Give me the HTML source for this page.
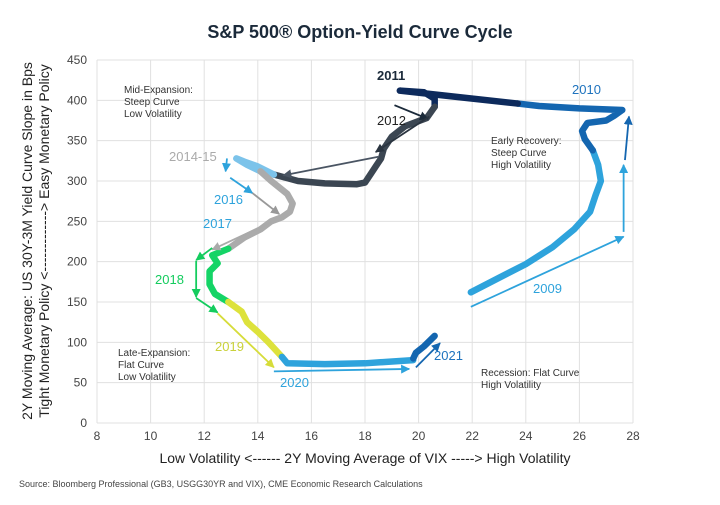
<!DOCTYPE html>
<html><head><meta charset="utf-8"><style>
body{margin:0;background:#fff;width:720px;height:500px;overflow:hidden;font-family:"Liberation Sans",sans-serif}
</style></head><body>
<svg id="chart" width="720" height="500" xmlns="http://www.w3.org/2000/svg" style="font-family:'Liberation Sans',sans-serif">
<defs>
<marker id="ah" viewBox="0 0 10 10" refX="9" refY="5" markerWidth="5" markerHeight="5" orient="auto-start-reverse"><path d="M0,0 L10,5 L0,10 z" fill="context-stroke"/></marker>
</defs>
<text x="360" y="38" text-anchor="middle" font-size="18" font-weight="bold" fill="#1b2a3a">S&amp;P 500® Option-Yield Curve Cycle</text>
<g id="grid"></g><g id="series"></g><g id="arrows"></g>
<text x="365" y="463" text-anchor="middle" font-size="14" fill="#222">Low Volatility &lt;------ 2Y Moving Average of VIX -----&gt; High Volatility</text>
<text transform="translate(40,241) rotate(-90)" text-anchor="middle" font-size="14" fill="#222"><tspan x="0" dy="-8">2Y Moving Average: US 30Y-3M  Yield Curve Slope in Bps</tspan><tspan x="0" dy="17">Tight Monetary Policy &lt;-------------&gt; Easy Monetary Policy</tspan></text>
<text x="19" y="487" font-size="9" fill="#444">Source: Bloomberg Professional (GB3, USGG30YR and VIX), CME Economic Research Calculations</text>
<g id="labels" font-size="10" fill="#333">
<text x="124" y="93"><tspan x="124">Mid-Expansion:</tspan><tspan x="124" dy="12">Steep Curve</tspan><tspan x="124" dy="12">Low Volatility</tspan></text>
<text x="491" y="144"><tspan x="491">Early Recovery:</tspan><tspan x="491" dy="12">Steep Curve</tspan><tspan x="491" dy="12">High Volatility</tspan></text>
<text x="118" y="356"><tspan x="118">Late-Expansion:</tspan><tspan x="118" dy="12">Flat Curve</tspan><tspan x="118" dy="12">Low Volatility</tspan></text>
<text x="481" y="376"><tspan x="481">Recession:  Flat Curve</tspan><tspan x="481" dy="12">High Volatility</tspan></text>
</g>
<g font-size="13">
<text x="377" y="80" fill="#1b2a3a" font-weight="bold">2011</text>
<text x="377" y="125" fill="#222">2012</text>
<text x="572" y="94" fill="#1e73be">2010</text>
<text x="169" y="161" fill="#aaa">2014-15</text>
<text x="214" y="204" fill="#2ea3dc">2016</text>
<text x="203" y="228" fill="#2ea3dc">2017</text>
<text x="155" y="284" fill="#14cc5e">2018</text>
<text x="215" y="351" fill="#c9d13a">2019</text>
<text x="280" y="387" fill="#2ea3dc">2020</text>
<text x="434" y="360" fill="#1e73be">2021</text>
<text x="533" y="293" fill="#2ea3dc">2009</text>
</g>
</svg>
<script>
const xTicks=[8,10,12,14,16,18,20,22,24,26,28];
const yTicks=[0,50,100,150,200,250,300,350,400,450];
const s2009=[[21.95,162],[23,180],[24,197],[25,218],[25.8,240],[26.4,262],[26.6,282],[26.8,300],[26.7,320],[26.5,338]];
const s2010=[[26.5,338],[26.2,352],[26.1,362],[26.3,372],[27,375],[27.3,381],[27.6,388],[26,390],[24.5,393],[23.7,396]];
const s2011=[[23.7,396],[21.5,404],[19.3,412],[20.2,410],[20.6,402],[20.6,392]];
const s2012=[[20.6,392],[20.3,378],[19.5,368],[19,355],[18.7,340],[18.6,328],[18.4,318],[18.2,308],[18,298],[17.7,296],[16.5,297],[15.5,300],[14.6,308]];
const s2014=[[14.6,308],[14,318],[13.5,324],[13.2,328],[13.6,320],[14.1,312]];
const s2016=[[14.1,312],[14.5,300],[14.8,292],[15.1,284],[15.3,272],[15.2,262],[14.9,255],[14.5,250],[14.1,240],[13.5,230],[12.9,216]];
const s2018=[[12.9,216],[12.3,208],[12.5,198],[12.2,188],[12.2,172],[12.4,160],[12.9,150]];
const s2019=[[12.9,150],[13.4,138],[13.6,125],[14,113],[14.4,100],[14.9,82]];
const s2020=[[14.9,82],[15.1,74],[16.5,73],[18,74],[19.8,78]];
const s2021=[[19.8,80],[19.9,87],[20.2,95],[20.6,108]];
const seriesList=[[s2009,'#2ea3dc'],[s2010,'#1466b0'],[s2011,'#0d2a5c'],[s2012,'#3b4652'],[s2014,'#7cc3ea'],[s2016,'#ababab'],[s2018,'#14d466'],[s2019,'#dde23c'],[s2020,'#2ea3dc'],[s2021,'#1466b0']];
const arrowList=[[19.1,394,20.35,377,'#1b2a3a'],[20.4,380,18.4,336,'#2a3440'],[18.5,330,14.95,307,'#4a5563'],[12.85,328,12.8,312,'#2ea3dc'],[12.97,304,13.8,285,'#2ea3dc'],[13.8,285,14.8,259,'#999'],[14.5,249,12.3,215,'#aaa'],[12.3,217,11.7,202,'#14cc5e'],[11.7,201,11.7,156,'#14cc5e'],[11.7,155,12.5,137,'#14cc5e'],[12.5,136,14.6,69,'#d6dc3a'],[14.6,64,19.65,67,'#2ea3dc'],[19.9,69,20.8,99,'#1466b0'],[21.95,144,27.65,231,'#2ea3dc'],[27.65,237,27.65,320,'#2ea3dc'],[27.7,326,27.85,380,'#1466b0']];
const X0=97,X1=633,Y0=423,Y1=60;
const xs=v=>X0+(v-8)/20*(X1-X0);
const ys=v=>Y0-(v/450)*(Y0-Y1);
const NS='http://www.w3.org/2000/svg';
const g=document.getElementById('grid');
function mk(tag,parent,attrs){const e=document.createElementNS(NS,tag);for(const k in attrs)e.setAttribute(k,attrs[k]);parent.appendChild(e);return e;}
xTicks.forEach(t=>{const l=mk('line',g,{x1:xs(t),x2:xs(t),y1:Y1,y2:Y0,stroke:'#e0e0e0','stroke-width':1});


const tx=mk('text',g,{x:xs(t),y:Y0+17,'text-anchor':'middle','font-size':12,fill:'#444'});tx.textContent=t;

});
yTicks.forEach(t=>{const l=mk('line',g,{x1:X0,x2:X1,y1:ys(t),y2:ys(t),stroke:'#e0e0e0','stroke-width':1});


const tx=mk('text',g,{x:X0-10,y:ys(t)+4,'text-anchor':'end','font-size':12,fill:'#444'});tx.textContent=t;

});
const sg=document.getElementById('series');
seriesList.forEach(([pts,c])=>{const p=mk('polyline',sg,{points:pts.map(q=>xs(q[0])+','+ys(q[1])).join(' '),fill:'none',stroke:c,'stroke-width':6.5,'stroke-linejoin':'round','stroke-linecap':'round'});

});
const ag=document.getElementById('arrows');
arrowList.forEach(a=>{const l=mk('line',ag,{x1:xs(a[0]),y1:ys(a[1]),x2:xs(a[2]),y2:ys(a[3]),stroke:a[4],'stroke-width':1.8,'marker-end':'url(#ah)'});

});
</script>
</body></html>
